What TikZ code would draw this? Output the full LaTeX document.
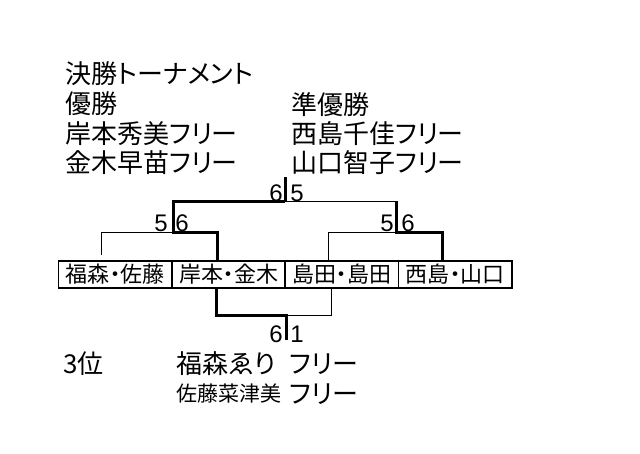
\documentclass[tikz,border=0pt]{standalone}
\usepackage{fontspec}
\setmainfont{Noto Sans CJK JP}[RawFeature=+palt]
\newfontfamily\digitfont{Liberation Sans}
\begin{document}
\begin{tikzpicture}[x=1pt,y=-1pt,
  thinline/.style={line width=1pt},
  thickline/.style={line width=3pt,line join=miter},
  teambox/.style={draw,line width=1.5pt,minimum width=113.5pt,minimum height=27pt,inner sep=0pt,font=\fontsize{22}{22}\selectfont},
  bigtext/.style={anchor=west,inner sep=0pt,font=\fontsize{26}{26}\selectfont},
  smalltext/.style={anchor=west,inner sep=0pt,font=\fontsize{21}{21}\selectfont},
  score/.style={anchor=base,inner sep=0pt,font=\digitfont\fontsize{24}{24}\selectfont}]
\useasboundingbox[fill=white] (0,0) rectangle (640,453);
% header texts
\node[bigtext] (title) at (65,73.5) {決勝トーナメント};
\node[bigtext] (win) at (65,104) {優勝};
\node[bigtext] (w1) at (65,133.5) {岸本秀美フリー};
\node[bigtext] (w2) at (65,162.5) {金木早苗フリー};
\node[bigtext] (ru) at (291,105) {準優勝};
\node[bigtext] (r1) at (291,133.5) {西島千佳フリー};
\node[bigtext] (r2) at (291,162.5) {山口智子フリー};
% team boxes
\node[teambox] (p1) at (115,274.5) {福森・佐藤};
\node[teambox] (p2) at (228.5,274.5) {岸本・金木};
\node[teambox] (p3) at (341.5,274.5) {島田・島田};
\node[teambox] (p4) at (455,274.5) {西島・山口};
% bracket coordinates
\coordinate (a0) at (101,255);
\coordinate (a1) at (101,232);
\coordinate (a2) at (173,232);
\coordinate (a3) at (217,232);
\coordinate (a4) at (217,261);
\coordinate (b0) at (328,261);
\coordinate (b1) at (328,232);
\coordinate (b2) at (396,232);
\coordinate (b3) at (442,232);
\coordinate (b4) at (442,261);
\coordinate (f1) at (173,201);
\coordinate (f2) at (285,201);
\coordinate (f3) at (285,177);
\coordinate (f4) at (396,201);
\coordinate (c0) at (216,288);
\coordinate (c1) at (216,315);
\coordinate (c2) at (286,315);
\coordinate (c3) at (286,340);
\coordinate (c4) at (331,315);
\coordinate (c5) at (331,288);
% thin lines
\draw[thinline] (a0) -- (a1) -- (a2);
\draw[thinline] (b0) -- (b1) -- (b2);
\draw[thinline] (f2) -- (f4);
\draw[thinline] (c2) -- (c4) -- (c5);
% thick lines
\draw[thickline] (a4) -- (a3) -- (a2) -- (f1) -- (f2);
\draw[thickline] (f2) -- (f3);
\draw[thickline] (f4) -- (b2) -- (b3) -- (b4);
\draw[thickline] (c0) -- (c1) -- (c2) -- (c3);
% scores
\node[score] (s1) at (161,231) {5};
\node[score] (s2) at (182,231) {6};
\node[score] (s3) at (276,201) {6};
\node[score] (s4) at (297,201) {5};
\node[score] (s5) at (387,231) {5};
\node[score] (s6) at (408,231) {6};
\node[score] (s7) at (276,342) {6};
\node[score] (s8) at (297,342) {1};
% third place
\node[bigtext] (third) at (63,364) {3位};
\node[bigtext] (t1) at (176,364) {福森ゑり};
\node[bigtext] (t1b) at (289,364) {フリー};
\node[smalltext] (t2) at (176,394) {佐藤菜津美};
\node[bigtext] (t3) at (289,394) {フリー};
\end{tikzpicture}
\end{document}
